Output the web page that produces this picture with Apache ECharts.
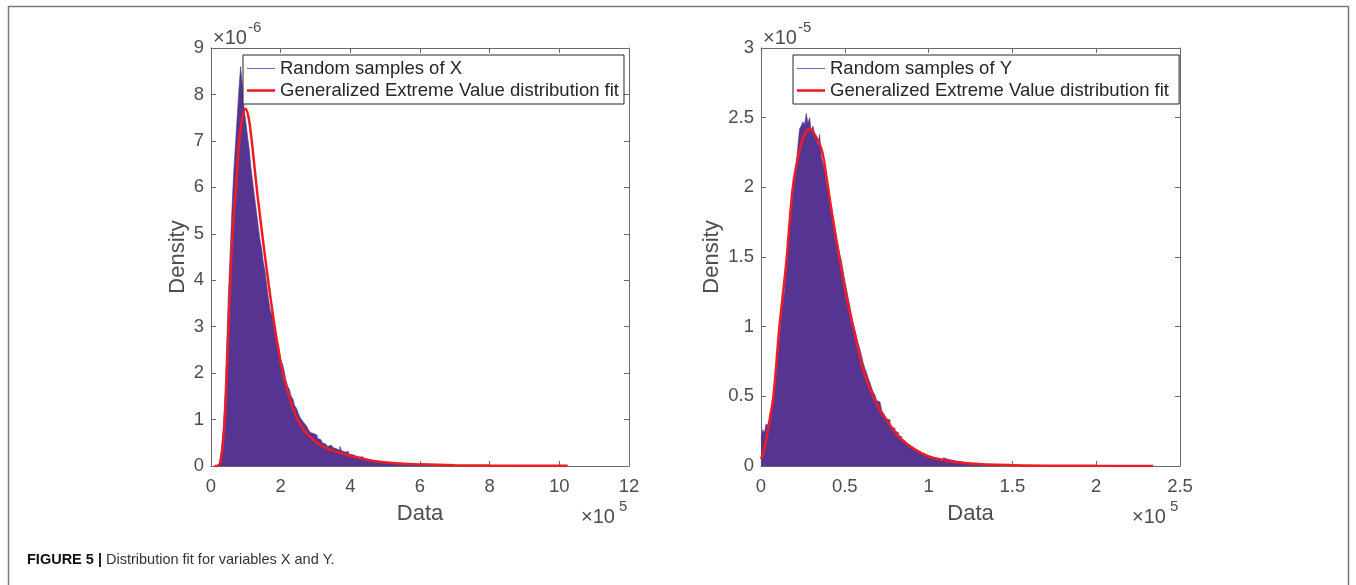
<!DOCTYPE html>
<html>
<head>
<meta charset="utf-8">
<script src="https://cdn.jsdelivr.net/npm/echarts@6/dist/echarts.min.js"></script>
<style>
  html, body { margin: 0; padding: 0; background: #fff; }
  #chart { width: 1356px; height: 585px; }
</style>
</head>
<body>
<div id="chart"></div>
<script>
// values in axis units: x in 1e5, density in 1e-6 (X) and 1e-5 (Y)
const xHistStart = 0.15;
const xHistWidth = 0.05;
const xHistDensity = [
  0, 0.03, 0.12, 0.35, 0.8, 1.5, 2.6, 3.7, 4.6, 5.5,
  6.3, 6.9, 7.5, 8.1, 8.6, 8.2, 7.7, 7.4, 7.1, 6.8,
  6.4, 6.1, 5.8, 5.5, 5.2, 4.9, 4.7, 4.4, 4.2, 3.9,
  3.6, 3.35, 3.25, 3.05, 2.85, 2.7, 2.55, 2.3, 2.2, 2.05,
  1.85, 1.72, 1.65, 1.5, 1.45, 1.3, 1.25, 1.15, 1.05, 1.0,
  0.95, 0.9, 0.85, 0.78, 0.72, 0.7, 0.68, 0.66, 0.6, 0.57,
  0.54, 0.5, 0.47, 0.44, 0.42, 0.45, 0.49, 0.4, 0.37, 0.36,
  0.34, 0.42, 0.33, 0.3, 0.28, 0.31, 0.26, 0.25, 0.23, 0.22,
  0.2, 0.19, 0.18, 0.2, 0.17, 0.15, 0.14, 0.13, 0.12, 0.13,
  0.11, 0.1, 0.1, 0.09, 0.09, 0.08, 0.08, 0.07, 0.07, 0.06,
  0.06, 0.06, 0.05, 0.05, 0.05, 0.04, 0.04, 0.04, 0.04, 0.03,
  0.04, 0.03, 0.03, 0.03, 0.02, 0.03, 0.02, 0.02, 0.02, 0.02,
  0.02, 0.01, 0.02, 0.01, 0.01, 0.01, 0.01, 0.01, 0.01, 0.01,
  0.01, 0.01, 0, 0.01, 0, 0, 0.01, 0
];
const xFitX = [0.1, 0.2, 0.26, 0.3, 0.35, 0.4, 0.45, 0.5, 0.55, 0.6, 0.65, 0.72, 0.81, 0.9, 0.99, 1.08, 1.17, 1.24, 1.31, 1.42, 1.52, 1.64, 1.75, 1.86, 1.97, 2.08, 2.21, 2.35, 2.5, 2.67, 2.84, 3.02, 3.22, 3.45, 3.7, 4.0, 4.4, 4.85, 5.4, 6.0, 7.0, 8.0, 9.0, 10.24];
const xFitY = [0, 0.01, 0.06, 0.2, 0.55, 1.06, 1.9, 2.9, 3.9, 4.7, 5.35, 6.0, 7.0, 7.5, 7.69, 7.5, 7.0, 6.5, 6.0, 5.3, 4.69, 4.0, 3.4, 2.85, 2.35, 1.95, 1.58, 1.25, 0.98, 0.78, 0.63, 0.51, 0.42, 0.34, 0.28, 0.22, 0.15, 0.09, 0.055, 0.035, 0.018, 0.01, 0.006, 0.004];

const yHistStart = 0;
const yHistWidth = 0.01;
const yHistDensity = [
  0.2, 0.26, 0.24, 0.3, 0.29, 0.36, 0.4, 0.48, 0.58, 0.72,
  0.8, 0.92, 1.06, 1.19, 1.24, 1.4, 1.58, 1.68, 1.86, 1.95,
  2.08, 2.16, 2.3, 2.42, 2.44, 2.47, 2.45, 2.53, 2.46, 2.5,
  2.4, 2.44, 2.38, 2.36, 2.3, 2.38, 2.22, 2.17, 2.12, 2.02,
  1.98, 1.9, 1.87, 1.78, 1.72, 1.64, 1.58, 1.52, 1.47, 1.4,
  1.33, 1.27, 1.21, 1.15, 1.08, 1.02, 0.98, 0.93, 0.88, 0.84,
  0.79, 0.74, 0.7, 0.67, 0.63, 0.6, 0.56, 0.53, 0.51, 0.47,
  0.46, 0.45, 0.4, 0.38, 0.36, 0.34, 0.33, 0.3, 0.28, 0.27,
  0.25, 0.24, 0.22, 0.21, 0.19, 0.18, 0.17, 0.16, 0.15, 0.14,
  0.13, 0.12, 0.115, 0.11, 0.1, 0.095, 0.09, 0.085, 0.08, 0.075,
  0.07, 0.065, 0.06, 0.058, 0.055, 0.05, 0.048, 0.045, 0.042, 0.06,
  0.05, 0.055, 0.045, 0.035, 0.04, 0.032, 0.03, 0.035, 0.028, 0.025,
  0.024, 0.022, 0.02, 0.02, 0.018, 0.016, 0.017, 0.015, 0.014, 0.013,
  0.012, 0.011, 0.012, 0.01, 0.009, 0.01, 0.008, 0.008, 0.007, 0.007,
  0.006, 0.006, 0.006, 0.005, 0.005, 0.005, 0.004, 0.005, 0.004, 0.004,
  0.003, 0.003, 0.003, 0.003, 0.002, 0.003, 0.002, 0.002, 0.002, 0.002,
  0.002, 0.002, 0.001, 0.002, 0.001, 0.001, 0.001, 0.002, 0.001, 0.001,
  0.001, 0.001, 0.001, 0.002, 0.001, 0.001, 0.001
];
const yFitX = [0, 0.02, 0.044, 0.074, 0.11, 0.15, 0.19, 0.23, 0.26, 0.29, 0.32, 0.362, 0.39, 0.42, 0.47, 0.51, 0.55, 0.61, 0.67, 0.71, 0.76, 0.83, 0.93, 1.03, 1.23, 1.5, 2.0, 2.34];
const yFitY = [0.05, 0.12, 0.28, 0.5, 1.0, 1.45, 2.0, 2.27, 2.38, 2.42, 2.38, 2.27, 2.08, 1.84, 1.48, 1.215, 1.0, 0.69, 0.497, 0.4, 0.31, 0.2, 0.11, 0.057, 0.02, 0.006, 0.001, 0];

const xTickMax = [12, 2.5];
const xTickStep = [2, 0.5];
const yTickMax = [9, 3];
const yTickStep = [1, 0.5];
const yExponent = ['-6', '-5'];
const xExponent = ['5', '5'];
const histNames = ['Random samples of X', 'Random samples of Y'];
const fitName = 'Generalized Extreme Value distribution fit';

const FONT = "'Liberation Sans', Arial, Helvetica, sans-serif";
const AXIS_COLOR = '#6a6a6a';
const LABEL_COLOR = '#4d4d4d';
const HIST_COLOR = '#563592';
const FIT_COLOR = '#ee1d23';

const grids = [
  { left: 211, top: 48, width: 418, height: 418 },
  { left: 761, top: 48, width: 419, height: 418 },
];
const densityGap = [22, 38];

function histPoints(start, width, dens) {
  const pts = dens.map((d, i) => [+(start + i * width).toFixed(4), d]);
  pts.push([+(start + dens.length * width).toFixed(4), 0]);
  return pts;
}
function zip(xs, ys) {
  return xs.map((x, i) => [x, ys[i]]);
}

const chart = echarts.init(document.getElementById('chart'), null, { renderer: 'canvas' });

const xAxis = [];
const yAxis = [];
const series = [];
const legend = [];
const graphic = [];

grids.forEach((g, i) => {
  const baseX = {
    gridIndex: i, type: 'value', min: 0, max: xTickMax[i], interval: xTickStep[i],
    axisLine: { show: true, onZero: false, lineStyle: { color: AXIS_COLOR, width: 1 } },
    axisTick: { show: true, inside: true, length: 5, lineStyle: { color: AXIS_COLOR } },
    splitLine: { show: false },
  };
  xAxis.push(Object.assign({}, baseX, {
    position: 'bottom',
    name: 'Data', nameLocation: 'middle', nameGap: 37, nameMoveOverlap: false,
    nameTextStyle: { fontFamily: FONT, fontSize: 22, color: LABEL_COLOR },
    axisLabel: { fontFamily: FONT, fontSize: 18.5, color: LABEL_COLOR, margin: 11 },
  }));
  xAxis.push(Object.assign({}, baseX, { position: 'top', axisLabel: { show: false } }));

  const baseY = {
    gridIndex: i, type: 'value', min: 0, max: yTickMax[i], interval: yTickStep[i],
    axisLine: { show: true, onZero: false, lineStyle: { color: AXIS_COLOR, width: 1 } },
    axisTick: { show: true, inside: true, length: 5, lineStyle: { color: AXIS_COLOR } },
    splitLine: { show: false },
  };
  yAxis.push(Object.assign({}, baseY, {
    position: 'left',
    name: 'Density', nameLocation: 'middle', nameGap: densityGap[i], nameMoveOverlap: false,
    nameTextStyle: { fontFamily: FONT, fontSize: 22, color: LABEL_COLOR },
    axisLabel: { fontFamily: FONT, fontSize: 18.5, color: LABEL_COLOR, margin: 7 },
  }));
  yAxis.push(Object.assign({}, baseY, { position: 'right', axisLabel: { show: false } }));

  const hist = i === 0
    ? histPoints(xHistStart, xHistWidth, xHistDensity)
    : histPoints(yHistStart, yHistWidth, yHistDensity);
  const fit = i === 0 ? zip(xFitX, xFitY) : zip(yFitX, yFitY);

  series.push({
    name: histNames[i], type: 'line', step: 'end',
    xAxisIndex: i * 2, yAxisIndex: i * 2,
    data: hist, symbol: 'none', silent: true,
    lineStyle: { color: HIST_COLOR, width: 0.6 },
    itemStyle: { color: HIST_COLOR },
    areaStyle: { color: HIST_COLOR, opacity: 1 },
    z: 2,
  });
  series.push({
    name: fitName + (i === 0 ? '' : ' '), type: 'line',
    xAxisIndex: i * 2, yAxisIndex: i * 2,
    data: fit, symbol: 'none', smooth: 0.35, silent: true,
    lineStyle: { color: FIT_COLOR, width: 2.5 },
    itemStyle: { color: FIT_COLOR },
    z: 3,
  });

  legend.push({
    left: g.left + 32, top: 55,
    orient: 'vertical',
    backgroundColor: '#fff',
    borderColor: '#262626', borderWidth: 1, borderRadius: 0,
    padding: [3, 5, 3, 4],
    itemWidth: 28, itemHeight: 14, itemGap: 1,
    selectedMode: false,
    textStyle: { fontFamily: FONT, fontSize: 18.5, color: '#262626', lineHeight: 21 },
    data: [
      { name: histNames[i], icon: 'path://M0,0L28,0L28,1L0,1Z', itemStyle: { color: '#7c62c2' } },
      { name: fitName + (i === 0 ? '' : ' '), icon: 'path://M0,0L28,0L28,2.6L0,2.6Z', itemStyle: { color: FIT_COLOR } },
    ],
    z: 10,
  });

  // exponent notes
  graphic.push({
    type: 'text', silent: true,
    style: { text: '×10', x: g.left + 2, y: g.top - 10, fontFamily: FONT, fontSize: 20, fill: LABEL_COLOR, verticalAlign: 'middle' },
  });
  graphic.push({
    type: 'text', silent: true,
    style: { text: yExponent[i], x: g.left + 37, y: g.top - 20, fontFamily: FONT, fontSize: 15, fill: LABEL_COLOR, verticalAlign: 'middle' },
  });
  graphic.push({
    type: 'text', silent: true,
    style: { text: '×10', x: g.left + g.width - 48, y: 517, fontFamily: FONT, fontSize: 20, fill: LABEL_COLOR, verticalAlign: 'middle' },
  });
  graphic.push({
    type: 'text', silent: true,
    style: { text: xExponent[i], x: g.left + g.width - 10, y: 507, fontFamily: FONT, fontSize: 15, fill: LABEL_COLOR, verticalAlign: 'middle' },
  });
});

graphic.push({
  type: 'rect', silent: true, z: -1,
  shape: { x: 8.5, y: 6.5, width: 1340, height: 620 },
  style: { fill: 'none', stroke: '#777', lineWidth: 1.5 },
});
graphic.push({
  type: 'text', silent: true,
  style: {
    text: '{b|FIGURE 5 |} Distribution fit for variables X and Y.',
    x: 27, y: 560, verticalAlign: 'middle',
    fontFamily: FONT, fontSize: 14.5, fill: '#333',
    rich: { b: { fontFamily: FONT, fontSize: 14.5, fontWeight: 'bold', fill: '#111' } },
  },
});

chart.setOption({
  animation: false,
  backgroundColor: '#fff',
  grid: grids.map((g) => Object.assign({ containLabel: false }, g)),
  xAxis,
  yAxis,
  legend,
  series,
  graphic,
});
</script>
</body>
</html>
